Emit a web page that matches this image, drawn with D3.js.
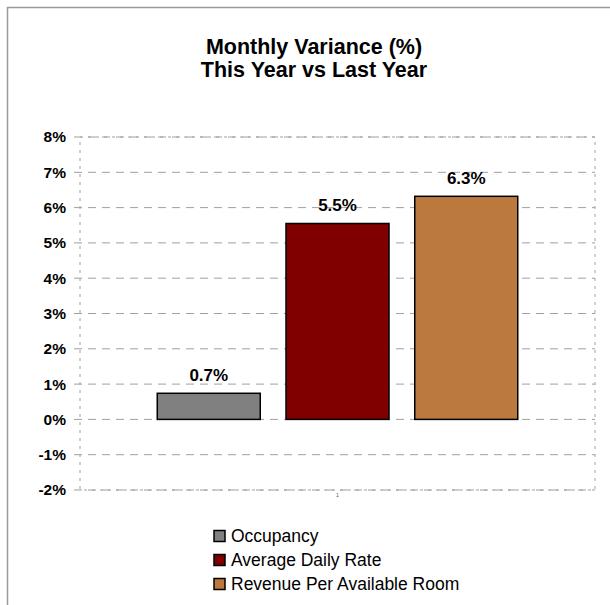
<!DOCTYPE html>
<html>
<head>
<meta charset="utf-8">
<script src="https://cdn.jsdelivr.net/npm/d3@7"></script>
<style>
  body { margin: 0; background: #fff; }
  text { font-family: "Liberation Sans", Arial, sans-serif; }
</style>
</head>
<body>
<div id="my_dataviz"></div>
<script>
// chart data
var series = ["Occupancy", "Average Daily Rate", "Revenue Per Available Room"];
var values = [0.74, 5.55, 6.32];
var colors = ["#808080", "#800000", "#bc793d"];
var yTicks = [-2, -1, 0, 1, 2, 3, 4, 5, 6, 7, 8];
var titleLines = ["Monthly Variance (%)", "This Year vs Last Year"];
var categoryLabel = "1";

var W = 610, H = 605;
var plot = {left: 80, right: 595, top: 137, bottom: 490};

var svg = d3.select("#my_dataviz")
  .append("svg")
    .attr("width", W)
    .attr("height", H);

// outer frame
svg.append("rect")
    .attr("x", 7.5).attr("y", 7.5)
    .attr("width", 620).attr("height", 620)
    .attr("fill", "none")
    .attr("stroke", "#9a9a9a")
    .attr("stroke-width", 1.5);

// title
svg.append("g").selectAll("text")
  .data(titleLines)
  .enter()
  .append("text")
    .attr("x", 314)
    .attr("y", function(d, i) { return 54 + i * 23; })
    .attr("text-anchor", "middle")
    .style("font-size", "21.5px")
    .style("font-weight", "bold")
    .text(function(d) { return d; });

// scales
var x = d3.scaleBand()
  .domain(series)
  .range([plot.left, plot.right])
  .paddingInner(0.2)
  .paddingOuter(0.6);

var y = d3.scaleLinear()
  .domain([-2, 8])
  .range([plot.bottom, plot.top]);

// gridlines
svg.append("g").selectAll("line")
  .data(yTicks)
  .enter()
  .append("line")
    .attr("x1", plot.left - 6)
    .attr("x2", plot.right)
    .attr("y1", function(d) { return y(d); })
    .attr("y2", function(d) { return y(d); })
    .attr("stroke", "#a0a0a0")
    .attr("stroke-width", 1)
    .attr("stroke-dasharray", "8,6");

// plot border
svg.append("rect")
    .attr("x", plot.left).attr("y", plot.top)
    .attr("width", plot.right - plot.left)
    .attr("height", plot.bottom - plot.top)
    .attr("fill", "none")
    .attr("stroke", "#a0a0a0")
    .attr("stroke-width", 1)
    .attr("stroke-dasharray", "3,5");

// Y axis labels
var yAxis = svg.append("g")
    .attr("transform", "translate(" + (plot.left - 14) + ",0)")
    .call(d3.axisLeft(y).tickValues(yTicks).tickSize(0).tickPadding(0)
      .tickFormat(function(d) { return d + "%"; }));
yAxis.select(".domain").remove();
yAxis.selectAll("text")
    .attr("fill", "#000")
    .style("font-size", "15.5px")
    .style("font-weight", "bold")
    .style("font-family", "'Liberation Sans', Arial, sans-serif");

// category label
svg.append("text")
    .attr("x", (plot.left + plot.right) / 2)
    .attr("y", plot.bottom + 7)
    .attr("text-anchor", "middle")
    .style("font-size", "5px")
    .attr("fill", "#555")
    .text(categoryLabel);

// bars
svg.append("g").selectAll("rect")
  .data(values)
  .enter()
  .append("rect")
    .attr("x", function(d, i) { return x(series[i]); })
    .attr("width", x.bandwidth())
    .attr("y", function(d) { return y(Math.max(0, d)); })
    .attr("height", function(d) { return Math.abs(y(d) - y(0)); })
    .attr("fill", function(d, i) { return colors[i]; })
    .attr("stroke", "#000")
    .attr("stroke-width", 1.5);

// value labels
svg.append("g").selectAll("text")
  .data(values)
  .enter()
  .append("text")
    .attr("x", function(d, i) { return x(series[i]) + x.bandwidth() / 2; })
    .attr("y", function(d) { return y(d) - 12; })
    .attr("text-anchor", "middle")
    .style("font-size", "17px")
    .style("font-weight", "bold")
    .text(function(d) { return d.toFixed(1) + "%"; });

// legend
var legend = svg.append("g").selectAll("g")
  .data(series)
  .enter()
  .append("g")
    .attr("transform", function(d, i) { return "translate(214," + (536 + i * 24) + ")"; });

legend.append("rect")
    .attr("x", 0).attr("y", -5.5)
    .attr("width", 11).attr("height", 11)
    .attr("fill", function(d, i) { return colors[i]; })
    .attr("stroke", "#000")
    .attr("stroke-width", 1.5);

legend.append("text")
    .attr("x", 17)
    .attr("y", 0)
    .attr("dy", "0.35em")
    .style("font-size", "17.5px")
    .text(function(d) { return d; });
</script>
</body>
</html>
